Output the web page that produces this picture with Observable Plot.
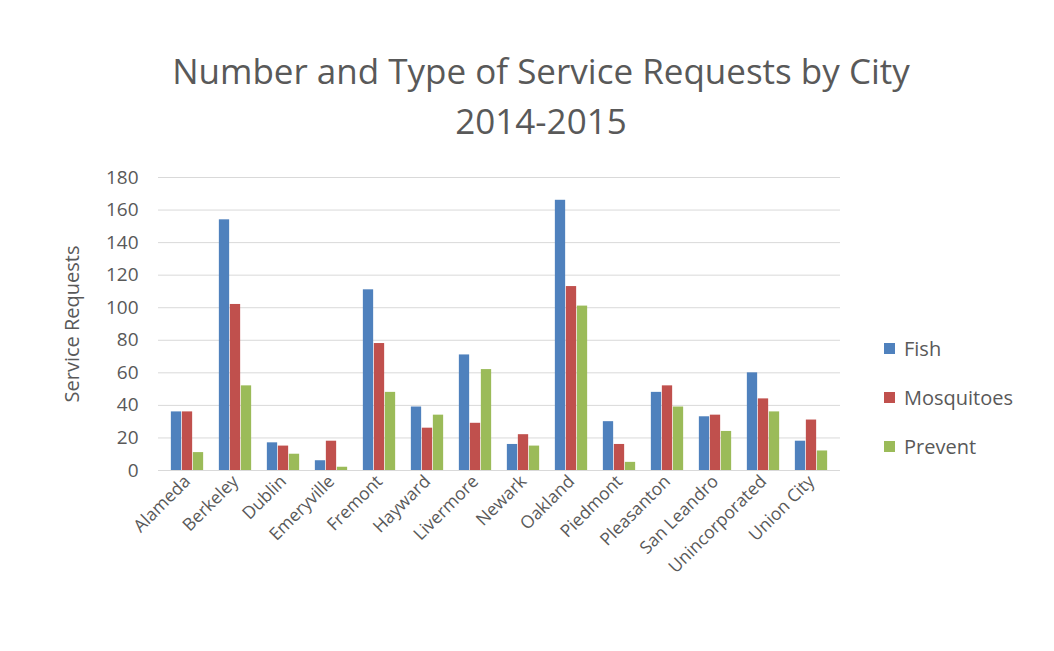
<!DOCTYPE html>
<html><head><meta charset="utf-8">
<script src="https://cdn.jsdelivr.net/npm/d3@7"></script>
<script src="https://cdn.jsdelivr.net/npm/@observablehq/plot@0.6"></script>
<style>
body{margin:0;background:#fff;font-family:"Open Sans",sans-serif;}
#wrap{position:relative;width:1054px;height:651px;overflow:hidden;}
#title{position:absolute;left:0;width:1082px;top:46px;text-align:center;font-size:35px;line-height:50px;color:#595959;}
#legend{position:absolute;left:884px;top:335px;font-size:20px;color:#595959;}
#legend div{height:49px;display:flex;align-items:flex-start}
#legend span{display:inline-block;width:11px;height:11px;margin:8px 9px 0 0}
#chart{position:absolute;left:0;top:0}
</style></head>
<body><div id="wrap"><div id="chart"></div>
<div id="title">Number and Type of Service Requests by City<br>2014-2015</div>
<div id="legend"></div></div>
<script>
const cities = ["Alameda","Berkeley","Dublin","Emeryville","Fremont","Hayward","Livermore","Newark","Oakland","Piedmont","Pleasanton","San Leandro","Unincorporated","Union City"];
const series = ["Fish","Mosquitoes","Prevent"];
const colors = ["#4f81bd","#c0504d","#9bbb59"];
const fish = [36,154,17,6,111,39,71,16,166,30,48,33,60,18];
const mosquitoes = [36,102,15,18,78,26,29,22,113,16,52,34,44,31];
const prevent = [11,52,10,2,48,34,62,15,101,5,39,24,36,12];
const yTicks = [0,20,40,60,80,100,120,140,160,180];

const vals = [fish, mosquitoes, prevent];
const W = 1054, mL = 158, mR = 214;
const band = (W - mL - mR) / cities.length;
const barW = 11;

const barMarks = series.map((s, j) => {
  const left = band / 2 - 1.5 * barW + j * barW;
  return Plot.barY(cities.map((c, i) => ({city: c, value: vals[j][i]})), {
    x: "city", y: "value", fill: colors[j],
    insetLeft: left, insetRight: band - left - barW
  });
});

const chart = Plot.plot({
  width: W, height: 651,
  marginLeft: mL, marginRight: mR, marginTop: 177, marginBottom: 181,
  style: {fontFamily: "Open Sans", color: "#595959", background: "transparent"},
  x: {domain: cities, padding: 0, label: null},
  y: {domain: [0, 180], label: null},
  marks: [
    Plot.ruleY(yTicks, {stroke: "#d9d9d9"}),
    ...barMarks,
    Plot.axisY(yTicks, {tickSize: 0, tickPadding: 20, fontSize: 19, fill: "#595959", label: null}),
    Plot.text(["Service Requests"], {frameAnchor: "left", textAnchor: "middle", dx: -86, rotate: -90, fontSize: 20, fill: "#595959"}),
    Plot.axisX({tickSize: 0, tickRotate: -45, textAnchor: "end", fontSize: 17.5, fill: "#595959", tickPadding: 8, label: null})
  ]
});
document.getElementById("chart").append(chart);
const lg = document.getElementById("legend");
series.forEach((s, j) => {
  const d = document.createElement("div");
  d.innerHTML = `<span style="background:${colors[j]}"></span>${s}`;
  lg.append(d);
});
</script></body></html>
